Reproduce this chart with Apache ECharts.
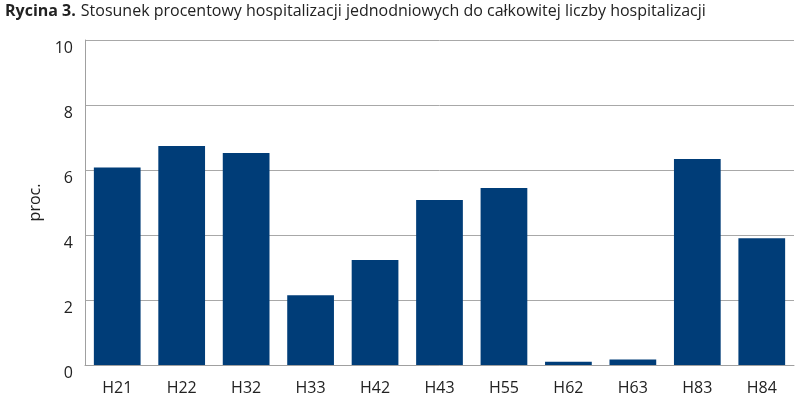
<!DOCTYPE html>
<html><head><meta charset="utf-8">
<script src="https://cdn.jsdelivr.net/npm/echarts@6/dist/echarts.min.js"></script>
<style>html,body{margin:0;padding:0;background:#fff}#c{width:800px;height:398px}</style>
</head><body><div id="c"></div>
<script>
const categories = ['H21','H22','H32','H33','H42','H43','H55','H62','H63','H83','H84'];
const values = [6.08, 6.74, 6.52, 2.15, 3.23, 5.08, 5.45, 0.1, 0.17, 6.34, 3.9];
const yTicks = [0, 2, 4, 6, 8, 10];

const chart = echarts.init(document.getElementById('c'));
chart.setOption({
  animation: false,
  title: {
    text: '{b|Rycina 3.} {n|Stosunek procentowy hospitalizacji jednodniowych do całkowitej liczby hospitalizacji}',
    left: 0, top: -3,
    textStyle: {
      fontWeight: 'normal',
      rich: {
        b: {fontFamily: 'Open Sans', fontWeight: 'bold', fontSize: 16, color: '#222'},
        n: {fontFamily: 'Open Sans', fontWeight: 'normal', fontSize: 16, color: '#222'}
      }
    }
  },
  grid: {left: 85, right: 6, top: 40, bottom: 33},
  xAxis: {
    type: 'category',
    data: categories,
    axisLine: {lineStyle: {color: '#a0a0a0', width: 1}},
    axisTick: {inside: true, length: 7, lineStyle: {color: '#a0a0a0'}},
    axisLabel: {color: '#222', fontFamily: 'Open Sans', fontSize: 16, margin: 15}
  },
  yAxis: {
    type: 'value',
    min: yTicks[0], max: yTicks[yTicks.length - 1], interval: 2,
    name: 'proc.',
    nameLocation: 'middle',
    nameGap: 35,
    nameTextStyle: {color: '#222', fontFamily: 'Open Sans', fontSize: 16},
    axisLine: {show: true, lineStyle: {color: '#a0a0a0'}},
    axisTick: {show: false},
    splitLine: {lineStyle: {color: '#a8a8a8'}},
    axisLabel: {color: '#222', fontFamily: 'Open Sans', fontSize: 16, margin: 12, verticalAlign: 'top', lineHeight: 16}
  },
  series: [{
    type: 'bar',
    data: values,
    barCategoryGap: '27.5%',
    itemStyle: {color: '#003d78'}
  }]
});
</script></body></html>
